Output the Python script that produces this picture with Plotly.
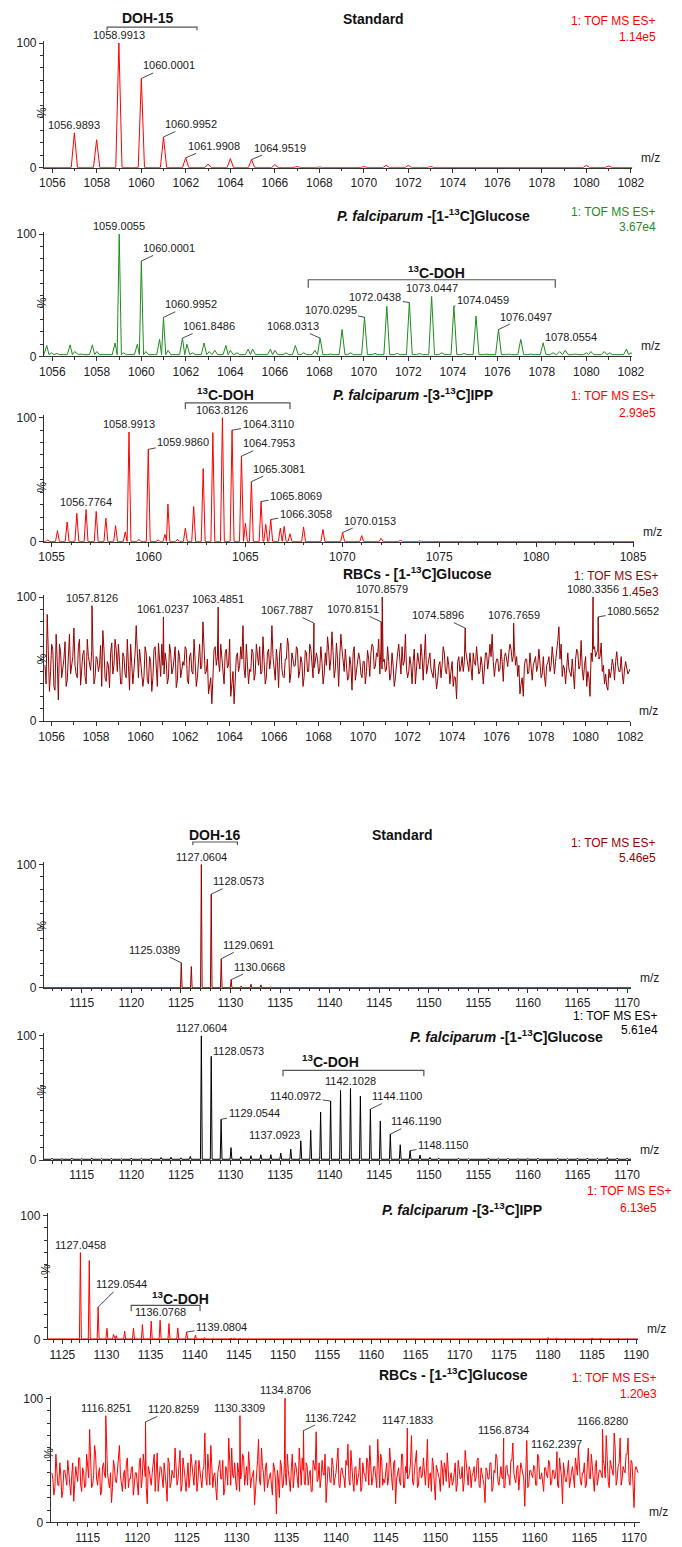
import numpy as np
import plotly.graph_objects as go

W, H = 682, 1547
FONT = "Liberation Sans, Arial, sans-serif"

# ---------------- DATA ----------------
# Panel 1: DOH-15 standard
p1_mz = [1055.8, 1056.3, 1056.9893, 1057.99, 1058.9913, 1060.0001, 1060.9952, 1061.9908, 1063.0, 1064.0,
         1064.9519, 1066.0, 1067.0, 1068.0, 1069.0, 1070.0, 1071.0, 1072.0, 1073.0, 1074.0, 1075.0, 1076.0,
         1077.0, 1078.0, 1079.0, 1080.0, 1081.0]
p1_int = [0.4, 0.6, 28, 22.5, 100, 71.6, 24.7, 8, 3, 7.4, 6.6, 2.6, 1, 0.6, 0.8, 1, 2, 2, 1, 0.5, 0.3, 0.3,
          0.3, 0.3, 0.5, 2, 1.5]
p1_labels = [1058.9913, 1060.0001, 1056.9893, 1060.9952, 1061.9908, 1064.9519]

# Panel 2: P. falciparum [1-13C]Glucose (DOH-15 region)
p2_mz = [1055.75, 1055.95, 1056.2, 1056.8, 1057.0, 1057.3, 1057.8, 1058.0, 1058.3, 1058.82, 1059.0055, 1059.2,
         1059.82, 1060.0001, 1060.2, 1060.82, 1060.9952, 1061.2, 1061.8486, 1062.05, 1062.3, 1062.82, 1063.05,
         1063.3, 1063.8, 1064.0, 1064.3, 1064.8, 1065.0, 1065.3, 1065.8, 1066.0, 1066.5, 1066.92, 1067.3, 1067.8,
         1068.0313, 1068.5, 1069.02, 1069.4, 1070.0295, 1070.5, 1071.03, 1071.5, 1072.0438, 1072.5, 1073.0447,
         1073.5, 1074.0459, 1074.5, 1075.04, 1075.5, 1076.0497, 1076.5, 1077.05, 1077.5, 1078.0554, 1078.5,
         1078.8, 1079.05, 1079.5, 1080.0, 1080.2, 1080.8, 1081.05, 1081.8, 1082.0]
p2_int = [9, 3, 2.5, 9.5, 4, 2, 9.5, 4, 2, 11, 100, 3, 10, 78, 4, 14, 32, 5, 15, 10, 3, 11, 4, 5, 9, 5, 3, 6, 6,
          2, 6, 5, 3, 9, 3, 5, 15, 2, 22, 3, 32, 2.5, 41, 2.5, 44, 2.5, 49, 3, 41, 2.5, 33, 2, 22, 2, 14, 2, 11,
          3, 4, 5, 2, 3, 4, 4, 3, 6, 3]
p2_labels = [1059.0055, 1060.0001, 1060.9952, 1061.8486, 1068.0313, 1070.0295, 1072.0438, 1073.0447,
             1074.0459, 1076.0497, 1078.0554]

# Panel 3: P. falciparum [3-13C]IPP (DOH-15 region)
p3_mz = [1054.8, 1055.3, 1055.8, 1056.3, 1056.7764, 1057.3, 1057.8, 1058.3, 1058.8, 1058.9913, 1059.5, 1059.9860,
         1060.5, 1060.85, 1061.0, 1061.5, 1061.9, 1062.33, 1062.82, 1063.32, 1063.8126, 1064.3110, 1064.7953,
         1065.0, 1065.3081, 1065.8069, 1066.05, 1066.3058, 1066.8, 1067.0, 1067.3, 1068.0, 1069.0, 1070.0153,
         1071.0, 1072.0, 1073.0, 1074.0, 1075.0, 1076.0, 1077.0, 1078.0, 1079.0, 1080.0, 1081.0, 1082.0, 1083.0,
         1084.0, 1085.0]
p3_int = [1.5, 9, 16, 23, 26, 24.5, 19, 13, 8, 88.5, 2, 74.5, 1.5, 6, 30.5, 2, 11, 28.5, 59, 88, 100, 90, 69,
          15, 48.5, 32.5, 14, 18, 11, 12.5, 6.5, 12, 10, 7.5, 5, 2.8, 1.2, 0.8, 0.7, 0.6, 0.8, 0.5, 0.7, 0.5, 0.8,
          0.6, 0.8, 0.5, 0.6]
p3_labels = [1058.9913, 1059.9860, 1063.8126, 1064.3110, 1064.7953, 1065.3081, 1065.8069, 1066.3058,
             1070.0153, 1056.7764]

# Panel 4: RBCs [1-13C]Glucose (DOH-15 region), sampled every 0.1 from 1055.7 (+ midpoints)
p4_start, p4_step = 1055.7, 0.1
p4_noise = [
    45, 86, 24,
    62, 28, 70, 17, 56, 41, 64, 33, 70, 48,
    75, 38, 60, 29, 54, 36, 66, 44, 57, 30,
    52, 40, 61, 73, 35, 48, 27, 63, 45, 58,
    62, 30, 55, 38, 66, 25, 50, 42, 77, 35,
    48, 28, 60, 33, 52, 24, 58, 40, 63, 36,
    45, 55, 30, 62, 38, 50, 27, 57, 35, 48,
    60, 33, 52, 40, 66, 28, 55, 42, 80, 38,
    50, 30, 14, 58, 45, 48, 62, 35, 55, 43,
    66, 30, 14, 52, 40, 60, 77, 35, 50, 42,
    58, 33, 62, 45, 38, 68, 30, 55, 42, 77,
    40, 58, 27, 63, 36, 50, 67, 31, 55, 44,
    60, 35, 52, 28, 57, 40, 62, 48, 43, 55,
    38, 60, 30, 55, 68, 41, 72, 35, 63, 28,
    70, 45, 58, 33, 52, 25, 60, 42, 55, 38,
    48, 30, 57, 36, 62, 42, 55, 66, 58, 48,
    40, 60, 33, 55, 28, 50, 62, 38, 45, 70,
    35, 52, 30, 58, 40, 48, 62, 33, 70, 44,
    55, 38, 50, 26, 45, 35, 60, 40, 52, 30,
    48, 36, 18, 52, 44, 40, 58, 42, 55, 33,
    47, 60, 38, 52, 30, 55, 42, 62, 70, 36,
    50, 40, 58, 32, 55, 44, 62, 48, 60, 52,
    45, 30, 20, 50, 38, 55, 33, 48, 40, 58,
    35, 52, 28, 47, 40, 60, 38, 55, 76, 62,
    45, 30, 55, 38, 50, 26, 58, 42, 65, 33,
    52, 40, 20, 48, 60, 55, 50, 63, 45, 38,
    25, 35, 50, 33, 56, 40, 52, 30, 48, 38,
    42]
p4_mid = [
    30, 55,
    40, 58, 25, 48, 62, 35, 50, 28, 60, 38,
    52, 45, 35, 66, 40, 57, 30, 52, 41, 62,
    35, 50, 45, 28, 58, 32, 45, 55, 38, 66,
    40, 48, 30, 52, 35, 45, 62, 30, 55, 46,
    58, 42, 36, 55, 30, 48, 35, 60, 28, 50,
    62, 38, 48, 35, 55, 42, 60, 33, 52, 40,
    45, 58, 30, 55, 38, 48, 35, 62, 45, 55,
    40, 22, 35, 45, 60, 52, 40, 50, 30, 58,
    45, 20, 40, 30, 55, 45, 50, 42, 62, 30,
    40, 55, 38, 52, 60, 40, 48, 35, 58, 50,
    52, 33, 48, 55, 42, 35, 50, 60, 38, 50,
    45, 58, 40, 47, 36, 55, 40, 58, 35, 48,
    50, 42, 48, 38, 45, 58, 50, 55, 42, 50,
    52, 58, 40, 48, 35, 45, 55, 33, 48, 50,
    35, 48, 40, 50, 55, 60, 44, 52, 38, 42,
    50, 42, 48, 38, 45, 35, 55, 45, 60, 48,
    42, 40, 45, 48, 30, 55, 42, 52, 60, 38,
    48, 42, 35, 38, 33, 48, 45, 55, 38, 45,
    40, 28, 35, 48, 40, 52, 48, 52, 40, 42,
    55, 45, 48, 40, 45, 42, 55, 50, 52, 48,
    45, 50, 42, 48, 52, 50, 55, 58, 52, 45,
    36, 22, 35, 45, 50, 40, 42, 45, 52, 45,
    42, 38, 36, 45, 52, 45, 50, 48, 65, 50,
    36, 42, 45, 42, 36, 40, 50, 55, 45, 42,
    45, 28, 35, 55, 58, 52, 58, 52, 40, 30,
    28, 42, 40, 45, 48, 45, 40, 38, 42]
p4_peak_mz = [1057.8126, 1061.0237, 1063.4851, 1067.7887, 1070.8151, 1070.8579, 1074.5896, 1076.7659,
              1080.3356, 1080.5652]
p4_peak_int = [93, 84, 92, 79, 80, 100, 75, 79, 100, 84]

# Panel 5: DOH-16 standard
p5_mz = [1112.0, 1114.0, 1116.0, 1118.0, 1120.0, 1122.0, 1124.0, 1125.0389, 1126.05, 1127.0604, 1128.0573,
         1129.0691, 1130.0668, 1131.07, 1132.07, 1133.07, 1134.07, 1135.07, 1137.0, 1140.0, 1141.0, 1145.0,
         1150.0, 1155.0, 1160.0, 1165.0, 1170.0]
p5_int = [0.4, 0.3, 0.3, 0.3, 0.3, 0.3, 0.4, 20.4, 17.4, 100, 76, 23.6, 6.7, 1.6, 3, 2.5, 1, 0.5, 0.4, 0.8,
          0.6, 0.3, 0.3, 0.3, 0.3, 0.3, 0.3]
p5_labels = [1127.0604, 1128.0573, 1125.0389, 1129.0691, 1130.0668]

# Panel 6: P. falciparum [1-13C]Glucose (DOH-16 region)
p6_mz = [1112, 1113, 1114, 1115, 1116, 1117, 1118, 1119, 1120, 1121, 1122, 1123, 1124, 1125, 1125.95,
         1127.0604, 1128.0573, 1129.0544, 1130.05, 1131.05, 1132.06, 1133.06, 1134.07, 1135.07, 1136.08,
         1137.0923, 1138.09, 1139.09, 1140.0972, 1141.1, 1142.1028, 1143.1, 1144.11, 1145.11, 1146.119,
         1147.12, 1148.115, 1149.12, 1150.12, 1151, 1152, 1153, 1154, 1155, 1156, 1157, 1158, 1159, 1160,
         1161, 1162, 1163, 1164, 1165, 1166, 1167, 1168, 1169, 1170]
p6_int = [1.5, 1.2, 1.5, 1.3, 1.6, 1.2, 1.4, 1.1, 1.6, 1.3, 1.5, 2, 2.2, 1.8, 3, 100, 83.5, 32.8, 10, 2.7,
          3.5, 4.3, 4.3, 5.6, 8.8, 15.5, 24, 38.7, 47.5, 56, 57.6, 51.5, 41, 31.5, 20.8, 12.3, 7.5, 4, 2,
          1.5, 1.2, 1.5, 1.3, 1.2, 1.5, 1.2, 1.4, 1.2, 1.3, 1.5, 1.2, 1.4, 1.2, 1.5, 1.6, 1.4, 2, 1.6, 1.5]
p6_labels = [1127.0604, 1128.0573, 1129.0544, 1137.0923, 1140.0972, 1142.1028, 1144.1100, 1146.1190,
             1148.1150]

# Panel 7: P. falciparum [3-13C]IPP (DOH-16 region)
p7_mz = [1123.6, 1124.5, 1125.5, 1126.4, 1127.0458, 1128.05, 1129.0544, 1130.05, 1130.8, 1131.1, 1132.06,
         1133.06, 1134.07, 1135.07, 1136.0768, 1137.08, 1138.08, 1139.0804, 1140.08, 1141.09, 1142.1, 1143.1,
         1144.1, 1144.5, 1145.1, 1146.1, 1147.1, 1150, 1153, 1156, 1159, 1161.5, 1162.5, 1165, 1167.5, 1168.5,
         1170, 1172, 1175, 1178, 1180, 1181, 1182, 1183, 1184, 1185, 1186, 1187, 1188, 1189, 1190]
p7_int = [0.8, 0.8, 0.8, 0.5, 70, 63.5, 26, 9, 4, 3, 6.7, 9, 12, 14.7, 15.5, 12.8, 9.3, 6, 3.5, 1.5, 1, 0.8,
          1.2, 1.3, 1.2, 1, 0.8, 0.6, 0.5, 0.6, 0.5, 0.8, 0.8, 0.6, 0.6, 0.6, 0.6, 0.5, 0.5, 0.5, 1.5, 1.3,
          1.2, 1.0, 0.8, 1.2, 1.2, 1.0, 1.2, 0.8, 0.8]
p7_labels = [1127.0458, 1129.0544, 1136.0768, 1139.0804]

# Panel 8: RBCs [1-13C]Glucose (DOH-16 region), sampled every 0.2 from 1111.4 (+ midpoints)
p8_start, p8_step = 1111.4, 0.2
p8_noise = [
    40, 22, 55,
    30, 48, 20, 42, 35,  50, 28, 38, 17, 45,  33, 52, 25, 40, 30,  46, 75, 28, 38, 55,
    30, 44, 25, 48, 36,  40, 28, 16, 50, 33,  45, 62, 30, 38, 27,  52, 35, 44, 22, 40,
    33, 48, 28, 55, 37,  15, 42, 30, 50, 25,  56, 35, 44, 28, 40,  17, 48, 32, 38, 60,
    30, 45, 25, 52, 36,  40, 28, 55, 33, 46,  25, 50, 35, 42, 72,  30, 45, 62, 28, 40,
    18, 44, 35, 50, 27,  42, 68, 30, 38, 48,  26, 40, 35, 55, 30,  45, 57, 28, 40, 14,
    38, 67, 30, 45, 25,  48, 33, 40, 22, 44,  7, 35, 50, 28, 46,   30, 42, 25, 55, 38,
    44, 28, 40, 52, 33,  48, 30, 42, 25, 45,  73, 35, 28, 50, 38,  16, 45, 33, 52, 30,
    40, 60, 28, 44, 36,  50, 63, 30, 42, 25,  45, 35, 52, 28, 40,  33, 48, 62, 30, 45,
    38, 67, 28, 50, 35,  42, 30, 60, 36, 48,  15, 40, 33, 55, 28,  45, 35, 40, 70, 30,
    50, 28, 44, 36, 52,  30, 67, 38, 25, 46,  18, 42, 35, 50, 30,  44, 56, 28, 40, 33,
    48, 30, 42, 36, 25,  58, 34, 45, 28, 40,  33, 50, 30, 44, 37,  16, 42, 35, 48, 28,
    40, 52, 30, 45, 35,  28, 46, 38, 50, 64,  35, 44, 26, 48, 38,  13, 66, 30, 42, 36,
    45, 30, 52, 35, 28,  44, 38, 50, 30, 42,  35, 48, 28, 44, 15,  40, 33, 50, 36, 45,
    28, 42, 60, 33, 40,  48, 30, 60, 35, 44,  25, 50, 38, 42, 36,  46, 70, 33, 50, 40,
    72, 30, 45, 68, 35,  42, 55, 68, 30, 48,
    12, 45, 40]
p8_mid = [
    35, 28,
    45, 30, 38, 25, 42,  30, 40, 22, 48, 35,  38, 52, 30, 44, 28,  55, 36, 42, 30, 62,
    35, 40, 22, 45, 38,  58, 33, 40, 28, 45,  32, 50, 38, 25, 42,  48, 28, 35, 45, 30,
    40, 22, 52, 36, 44,  28, 45, 33, 40, 55,  38, 25, 45, 35, 48,  30, 52, 28, 42, 36,
    44, 35, 58, 30, 40,  25, 48, 36, 44, 30,  50, 33, 40, 28, 45,  36, 55, 30, 42, 38,
    28, 40, 50, 35, 22,  45, 30, 42, 60, 36,  33, 48, 25, 40, 52,  38, 30, 45, 35, 42,
    25, 50, 33, 60, 40,  45, 28, 38, 30, 48,  35, 42, 20, 46, 30,  40, 55, 32, 44, 28,
    48, 35, 60, 30, 42,  30, 45, 38, 25, 50,  42, 33, 48, 36, 40,  55, 28, 44, 32, 46,
    36, 50, 30, 42, 38,  28, 46, 35, 58, 33,  44, 30, 40, 25, 48,  38, 52, 30, 46, 35,
    45, 28, 40, 55, 30,  32, 48, 36, 42, 26,  50, 35, 44, 30, 55,  28, 40, 36, 48, 33,
    42, 58, 30, 45, 38,  35, 44, 28, 40, 52,  30, 46, 38, 25, 44,  48, 33, 42, 36, 30,
    40, 25, 50, 35, 45,  33, 48, 30, 42, 38,  45, 36, 52, 28, 40,  30, 44, 35, 48, 25,
    42, 55, 33, 40, 36,  28, 45, 38, 30, 50,  40, 32, 46, 36, 44,  35, 50, 28, 42, 38,
    46, 30, 55, 35, 40,  25, 44, 36, 48, 32,  42, 38, 30, 52, 36,  48, 33, 45, 28, 40,
    35, 52, 38, 44, 30,  40, 28, 48, 36, 55,  33, 45, 30, 42, 38,  50, 36, 44, 28, 46,
    38, 60, 35, 48, 30,  45, 40, 55, 33, 50,
    30, 42]
p8_peak_mz = [1116.8251, 1120.8259, 1130.3309, 1134.8706, 1136.7242, 1147.1833, 1156.8734, 1162.2397,
              1166.8280]
p8_peak_int = [86, 81, 86, 100, 74, 76, 68, 57, 75]

# ---------------- STYLE / LAYOUT ----------------
def fx(px):
    return px / W


def fy(py):
    return 1 - py / H


RED, GREEN, MAROON, BLACK = "#ff0000", "#1e8c1e", "#990000", "#000000"
AX = "#333333"
LBL = "#1a1a1a"


def profile(mz, inten, w, base, xr):
    xs, ys = [xr[0]], [base]
    n = len(mz)
    for i, (m, h) in enumerate(zip(mz, inten)):
        lo, hi = m - w, m + w
        if i > 0:
            lo = max(lo, (mz[i - 1] + m) / 2)
        if i < n - 1:
            hi = min(hi, (m + mz[i + 1]) / 2)
        xs += [lo, m, hi]
        ys += [base, h, base]
    xs.append(xr[1])
    ys.append(base)
    return xs, ys


def noise_series(start, step, vals, mids, pk_mz, pk_int):
    xs = list(np.round(start + step * np.arange(len(vals)), 3))
    nm = min(len(mids), len(vals) - 1)
    xm = list(np.round(start + step / 2 + step * np.arange(nm), 3))
    pts = sorted(list(zip(xs, vals)) + list(zip(xm, mids[:nm])) + list(zip(pk_mz, pk_int)))
    return [p[0] for p in pts], [p[1] for p in pts]


# panel geometry: x domain px, y px for 0 and 100, x range, tick spacing
panels = [
    dict(xd=(40, 645), y0=165, y100=39.3, xr=(1055.62, 1082.05), t0=1056, dt=2, color=RED),
    dict(xd=(40, 645), y0=355, y100=231.7, xr=(1055.62, 1082.05), t0=1056, dt=2, color=GREEN),
    dict(xd=(40, 647), y0=541.7, y100=416.7, xr=(1054.6, 1085.05), t0=1055, dt=5, color=RED),
    dict(xd=(40, 643), y0=722.3, y100=597.3, xr=(1055.65, 1082.0), t0=1056, dt=2, color=MAROON),
    dict(xd=(40, 644), y0=991, y100=866.7, xr=(1111.18, 1170.4), t0=1115, dt=5, color=MAROON),
    dict(xd=(40, 644), y0=1164.3, y100=1039.3, xr=(1111.18, 1170.4), t0=1115, dt=5, color=BLACK),
    dict(xd=(44, 651), y0=1345, y100=1220, xr=(1123.35, 1190.2), t0=1125, dt=5, color=RED),
    dict(xd=(47, 653), y0=1529.3, y100=1404.3, xr=(1111.28, 1170.58), t0=1115, dt=5, color=RED),
]

series = [
    profile(p1_mz, p1_int, 0.14, 0.3, panels[0]["xr"]),
    profile(p2_mz, p2_int, 0.13, 1.5, panels[1]["xr"]),
    profile(p3_mz, p3_int, 0.1, 0.3, panels[2]["xr"]),
    noise_series(p4_start, p4_step, p4_noise, p4_mid, p4_peak_mz, p4_peak_int),
    profile(p5_mz, p5_int, 0.08, 0.2, panels[4]["xr"]),
    profile(p6_mz, p6_int, 0.09, 0.6, panels[5]["xr"]),
    profile(p7_mz, p7_int, 0.11, 0.4, panels[6]["xr"]),
    noise_series(p8_start, p8_step, p8_noise, p8_mid, p8_peak_mz, p8_peak_int),
]

# label offsets (px) for each labelled peak; None = text sits right above the peak
label_sets = [
    (p1_labels, p1_mz, p1_int, [None, (28, -13), None, (28, -13), (28, -12), (28, -12)]),
    (p2_labels, p2_mz, p2_int, [None, (28, -13), (28, -13), (27, -12), (-27, -12), (-34, -7), (-34, -6),
                                None, (29, -6), (27, -13), (28, -6)]),
    (p3_labels, p3_mz, p3_int, [None, (35, -7), None, (36, -6), (28, -13), (28, -13), (35, -6), (35, -6),
                                (27, -12), None]),
    (p4_peak_mz, p4_peak_mz, p4_peak_int, [None, None, None, (-27, -13), (-28, -13), None, (-27, -13), None,
                                           None, (35, -6)]),
    (p5_labels, p5_mz, p5_int, [None, (27, -13), (-27, -13), (27, -14), (28, -13)]),
    (p6_labels, p6_mz, p6_int, [None, (27, -5), (33, -6), (-26, -6), (-35, -5), None, (27, -13), (26, -13),
                                (33, -6)]),
    (p7_labels, p7_mz, p7_int, [None, (23, -23), None, (35, -5)]),
    (p8_peak_mz, p8_peak_mz, p8_peak_int, [None, (28, -13), None, None, (27, -13), None, None, None, None]),
]

fig = go.Figure()
annotations = []
shapes = []

for i, (pn, (xs, ys)) in enumerate(zip(panels, series), start=1):
    sfx = "" if i == 1 else str(i)
    fig.add_trace(go.Scatter(x=xs, y=ys, mode="lines", line=dict(color=pn["color"], width=1),
                             xaxis="x" + sfx, yaxis="y" + sfx, hoverinfo="skip", showlegend=False))
    scale = (pn["y0"] - pn["y100"]) / 100.0
    ytop = pn["y0"] - 102 * scale
    fig.layout["xaxis" + sfx] = dict(
        domain=[fx(pn["xd"][0]), fx(pn["xd"][1])], range=list(pn["xr"]), anchor="y" + sfx,
        showline=True, linecolor=AX, linewidth=1, showgrid=False, zeroline=False,
        ticks="outside", ticklen=4, tickcolor=AX, tickmode="linear", tick0=pn["t0"], dtick=pn["dt"],
        minor=dict(tickmode="linear", tick0=pn["t0"], dtick=1, ticks="outside", ticklen=2.5, tickcolor=AX),
        tickfont=dict(family=FONT, size=12, color="#222"), fixedrange=True)
    fig.layout["yaxis" + sfx] = dict(
        domain=[fy(pn["y0"]), fy(ytop)], range=[0, 102], anchor="x" + sfx,
        showline=True, linecolor=AX, linewidth=1, showgrid=False, zeroline=False,
        ticks="outside", ticklen=4, tickcolor=AX, tickmode="array", tickvals=[0, 100],
        minor=dict(tickmode="linear", tick0=0, dtick=10, ticks="outside", ticklen=3, tickcolor=AX),
        tickfont=dict(family=FONT, size=12, color="#222"), fixedrange=True)
    # % and m/z
    annotations.append(dict(xref="paper", yref="paper", x=fx(pn["xd"][0] - 11),
                            y=fy((pn["y0"] + pn["y100"]) / 2), text="%", showarrow=False, textangle=-90,
                            font=dict(family=FONT, size=12, color="#222")))
    annotations.append(dict(xref="paper", yref="paper", x=fx(pn["xd"][1] + 7), y=fy(pn["y0"] - 1),
                            xanchor="left", yanchor="bottom", text="m/z", showarrow=False,
                            font=dict(family=FONT, size=12, color="#222")))

# peak labels
for i, (labs, mzs, ints, offs) in enumerate(label_sets, start=1):
    sfx = "" if i == 1 else str(i)
    for lab, off in zip(labs, offs):
        j = int(np.argmin(np.abs(np.array(mzs) - lab)))
        yv = ints[j]
        txt = "%.4f" % lab
        base = dict(xref="x" + sfx, yref="y" + sfx, x=lab, y=yv, text=txt,
                    font=dict(family=FONT, size=11, color=LBL))
        if off is None:
            base.update(showarrow=False, yanchor="bottom", yshift=0)
        else:
            base.update(showarrow=True, ax=off[0], ay=off[1], arrowhead=0, arrowwidth=0.8,
                        arrowcolor=LBL, standoff=0, startstandoff=0)
        annotations.append(base)


def text(px, py, s, size=14, color="#111", anchor="center"):
    annotations.append(dict(xref="paper", yref="paper", x=fx(px), y=fy(py), text=s, showarrow=False,
                            xanchor=anchor, yanchor="middle",
                            font=dict(family=FONT, size=size, color=color)))


B = lambda s: "<b>" + s + "</b>"
PF1 = "<b><i>P. falciparum</i> -[1-<sup>13</sup>C]Glucose</b>"
PF3 = "<b><i>P. falciparum</i> -[3-<sup>13</sup>C]IPP</b>"
RBC = "<b>RBCs - [1-<sup>13</sup>C]Glucose</b>"
CDOH = "<b><sup>13</sup>C-DOH</b>"

# titles
text(379.5, 15, B("Standard"))
text(146.7, 14, B("DOH-15"))
text(441, 213, PF1)
text(443.7, 270, CDOH)
text(419.7, 393, PF3)
text(226.4, 393, CDOH)
text(424, 573, RBC)
text(408.7, 837, B("Standard"))
text(216.4, 837, B("DOH-16"))
text(515.7, 1039.3, PF1)
text(334.4, 1065, CDOH)
text(470, 1213.3, PF3)
text(180.5, 1303.3, CDOH)
text(461, 1380, RBC)

# instrument texts
tof = "1: TOF MS ES+"
for (py1, py2, right, col, val) in [(17, 33, 672, RED, "1.14e5"), (209, 225, 672, GREEN, "3.67e4"),
                                    (395, 411.5, 672, RED, "2.93e5"), (576, 592, 675, MAROON, "1.45e3"),
                                    (845, 860.5, 672, MAROON, "5.46e5"), (1019, 1033, 674, BLACK, "5.61e4"),
                                    (1384, 1400, 673, RED, "1.20e3")]:
    text(right, py1, tof, size=12, color=col, anchor="right")
    text(right, py2, val, size=12, color=col, anchor="right")
text(688, 1196, tof, size=12, color=RED, anchor="right")
text(673, 1213, "6.13e5", size=12, color=RED, anchor="right")

# brackets: (panel, x0, x1, bar px, tick px)
brackets = [(1, 1058.46, 1062.5, 23.3, 26.5), (2, 1067.5, 1078.6, 277.7, 285.7), (3, 1061.9, 1067.3, 401.7, 408),
            (5, 1126.2, 1130.7, 844, 847), (6, 1135.3, 1149.5, 1074, 1080), (7, 1132.8, 1140.6, 1310.7, 1316.7)]
for (p, x0, x1, yb, yt) in brackets:
    sfx = "" if p == 1 else str(p)
    shapes.append(dict(type="path", xref="x" + sfx, yref="paper",
                       path="M %f,%f L %f,%f L %f,%f L %f,%f" % (x0, fy(yt), x0, fy(yb), x1, fy(yb), x1, fy(yt)),
                       line=dict(color="#555", width=1.2)))

fig.update_layout(width=W, height=H, margin=dict(l=0, r=0, t=0, b=0), paper_bgcolor="white",
                  plot_bgcolor="white", showlegend=False, annotations=annotations, shapes=shapes,
                  font=dict(family=FONT))
fig.write_html("out.html", config={"displayModeBar": False},
               post_script="document.body.style.margin='0';document.body.style.overflow='hidden';")
